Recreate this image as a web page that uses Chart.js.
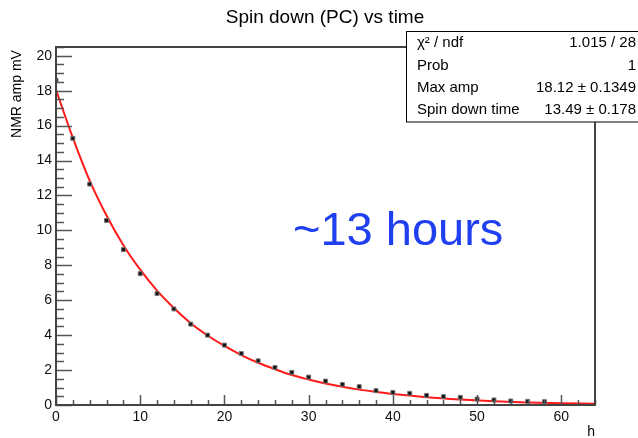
<!DOCTYPE html>
<html>
<head>
<meta charset="utf-8">
<script src="https://cdn.jsdelivr.net/npm/chart.js@4.4.1/dist/chart.umd.min.js"></script>
<style>
  body { margin: 0; background: #fff; }
  canvas { display: block; }
</style>
</head>
<body>
<canvas id="chart" width="638" height="438"></canvas>
<script>
// measured points (hours, mV)
const hours = [0, 2, 4, 6, 8, 10, 12, 14, 16, 18, 20, 22, 24, 26, 28, 30, 32, 34, 36, 38, 40, 42, 44, 46, 48, 50, 52, 54, 56, 58];
const amplitude = [18.6, 15.27, 12.65, 10.57, 8.9, 7.52, 6.38, 5.5, 4.63, 4.0, 3.43, 2.95, 2.53, 2.15, 1.87, 1.6, 1.37, 1.18, 1.05, 0.82, 0.72, 0.67, 0.55, 0.48, 0.44, 0.34, 0.29, 0.23, 0.21, 0.19];

// fit curve
const fitHours = [0, 2, 4, 6, 8, 10, 12, 14, 16, 18, 20, 22, 24, 26, 28, 30, 32, 34, 36, 38, 40, 44, 48, 52, 56, 60, 64];
const fitAmp = [18.05, 15.3, 12.85, 10.85, 9.15, 7.75, 6.55, 5.55, 4.68, 3.98, 3.38, 2.86, 2.42, 2.05, 1.72, 1.46, 1.23, 1.04, 0.88, 0.75, 0.63, 0.45, 0.32, 0.22, 0.15, 0.1, 0.07];

const statNames = ['χ² / ndf', 'Prob', 'Max amp', 'Spin down time'];
const statValues = ['1.015 / 28', '1', '18.12 ± 0.1349', '13.49 ± 0.178'];

const FONT = '"Liberation Sans", Arial, Helvetica, sans-serif';

// frame, inner ticks, stats box and labels
const rootStyle = {
    id: 'rootStyle',
    beforeDraw(chart) {
        const c = chart.ctx;
        c.save();
        c.fillStyle = '#fff';
        c.fillRect(0, 0, chart.width, chart.height);
        c.restore();
    },
    afterDraw(chart) {
        const c = chart.ctx;
        const a = chart.chartArea;
        const xs = chart.scales.x;
        const ys = chart.scales.y;
        c.save();

        // ticks inside the frame
        c.strokeStyle = '#555';
        c.lineWidth = 1.5;
        c.beginPath();
        for (let v = 0; v <= 20.5; v += 0.5) {
            const py = Math.round(ys.getPixelForValue(v)) + 0.5;
            const len = (v % 2 === 0) ? 16 : 8;
            c.moveTo(a.left, py);
            c.lineTo(a.left + len, py);
        }
        for (let v = 0; v <= 64; v += 2) {
            const px = Math.round(xs.getPixelForValue(v)) + 0.5;
            const len = (v % 10 === 0) ? 10 : 5;
            c.moveTo(px, a.bottom);
            c.lineTo(px, a.bottom - len);
        }
        c.stroke();

        // frame
        c.lineWidth = 2;
        c.strokeStyle = '#444';
        c.strokeRect(a.left, a.top, a.right - a.left, a.bottom - a.top);

        // stats box
        c.fillStyle = '#fff';
        c.fillRect(406.5, 31, 240, 91);
        c.lineWidth = 1;
        c.strokeStyle = '#000';
        c.strokeRect(406.5, 31.5, 240, 90.5);
        c.font = '15px ' + FONT;
        c.fillStyle = '#000';
        c.textBaseline = 'middle';
        const rowY = [43, 66, 88, 110];
        statNames.forEach((n, i) => {
            c.textAlign = 'left';
            c.fillText(n, 417, rowY[i]);
            c.textAlign = 'right';
            c.fillText(statValues[i], 636, rowY[i]);
        });

        // title
        c.textAlign = 'center';
        c.font = '19px ' + FONT;
        c.fillText('Spin down (PC) vs time', 325, 18);

        // axis titles
        c.font = '14px ' + FONT;
        c.textAlign = 'right';
        c.fillText('h', 595, 432);
        c.save();
        c.translate(17, 94);
        c.rotate(-Math.PI / 2);
        c.textAlign = 'center';
        c.fillText('NMR amp mV', 0, 0);
        c.restore();

        // annotation
        c.fillStyle = '#1f3ff0';
        c.font = '47px ' + FONT;
        c.textAlign = 'left';
        c.textBaseline = 'alphabetic';
        c.fillText('~13 hours', 293, 245);

        c.restore();
    }
};

const ctx = document.getElementById('chart').getContext('2d');

const chart = new Chart(ctx, {
    type: 'scatter',
    data: {
        datasets: [
            {
                label: 'fit',
                data: fitHours.map((h, i) => ({ x: h, y: fitAmp[i] })),
                showLine: true,
                borderColor: '#ff1a1a',
                borderWidth: 2,
                pointRadius: 0,
                cubicInterpolationMode: 'monotone',
                order: 2
            },
            {
                label: 'data',
                data: hours.map((h, i) => ({ x: h, y: amplitude[i] })),
                pointStyle: 'rect',
                pointRadius: 2.8,
                backgroundColor: '#111',
                borderColor: '#777',
                borderWidth: 1,
                order: 1
            }
        ]
    },
    options: {
        responsive: false,
        animation: false,
        layout: { padding: { left: 0, top: 47, right: 43, bottom: 0 } },
        plugins: {
            legend: { display: false },
            title: { display: false },
            tooltip: { enabled: false }
        },
        scales: {
            x: {
                type: 'linear',
                min: 0,
                max: 64,
                grid: { display: false, drawTicks: false },
                border: { display: false },
                ticks: {
                    stepSize: 10,
                    includeBounds: false,
                    padding: 4,
                    color: '#111',
                    font: { family: FONT, size: 14 },
                    maxRotation: 0
                },
                afterFit(scale) { scale.height = 33; }
            },
            y: {
                type: 'linear',
                min: 0,
                max: 20.5,
                grid: { display: false, drawTicks: false },
                border: { display: false },
                ticks: {
                    stepSize: 2,
                    includeBounds: false,
                    padding: 4,
                    color: '#111',
                    font: { family: FONT, size: 14 }
                },
                afterFit(scale) { scale.width = 56; }
            }
        }
    },
    plugins: [rootStyle]
});
</script>
</body>
</html>
